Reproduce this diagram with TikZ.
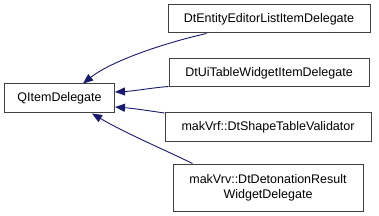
\documentclass[tikz,border=0pt]{standalone}
\usepackage{fontspec}
\setmainfont{Liberation Sans}
\usetikzlibrary{arrows.meta}
\definecolor{edgeblue}{HTML}{191970}
\definecolor{boxline}{HTML}{404040}
\begin{document}
\begin{tikzpicture}[x=1pt,y=-1pt,
  box/.style={draw=boxline, line width=1pt, fill=white, inner sep=0pt, align=center,
    font=\fontsize{12.5}{15}\selectfont},
  inh/.style={draw=edgeblue, line width=0.9pt, -{Triangle[length=10pt,width=8pt]}}]
\useasboundingbox (0,0) rectangle (379,216);
\node[box, minimum width=110pt, minimum height=29pt] (Q) at (59.5,98.5) {QItemDelegate};
\node[box, minimum width=202pt, minimum height=28pt] (A) at (269,19) {DtEntityEditorListItemDelegate};
\node[box, minimum width=200pt, minimum height=28pt] (B) at (269,73) {DtUiTableWidgetItemDelegate};
\node[box, minimum width=206pt, minimum height=28pt] (C) at (268,127) {makVrf::DtShapeTableValidator};
\node[box, minimum width=190pt, minimum height=47pt] (D) at (268,187.5) {makVrv::DtDetonationResult\\WidgetDelegate};
\draw[inh] ([xshift=39pt]A.south west) .. controls (160,44) and (110,62) .. ([xshift=79pt]Q.north west);
\draw[inh] ([yshift=1pt]B.south west) .. controls (150,88) and (135,91) .. ([yshift=6.5pt]Q.east);
\draw[inh] ([yshift=-0.5pt]C.north west) .. controls (150,111) and (135,108.5) .. ([yshift=-8.5pt]Q.east);
\draw[inh] ([xshift=20pt]D.north west) .. controls (165,150) and (125,133) .. ([xshift=88pt]Q.south west);
\end{tikzpicture}
\end{document}
